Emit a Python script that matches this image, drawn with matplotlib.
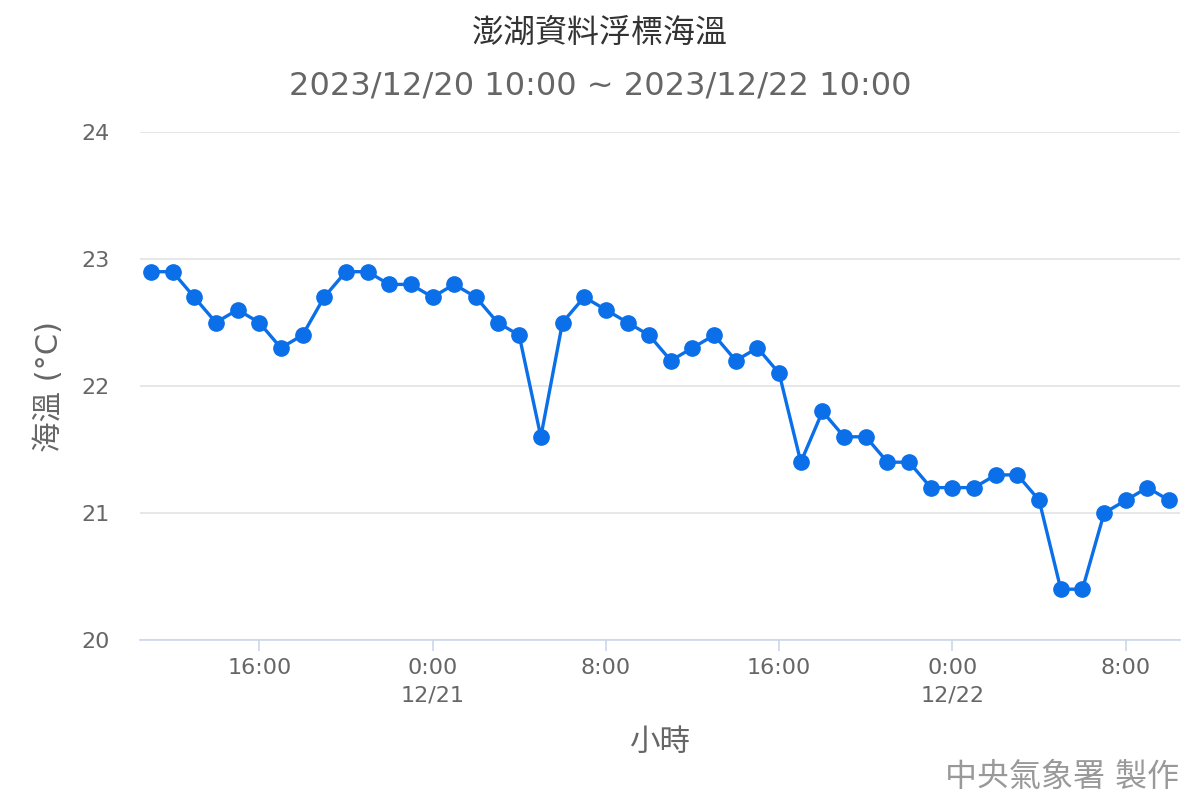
import matplotlib
matplotlib.use('Agg')
import matplotlib.pyplot as plt

plt.rcParams['font.family'] = ['DejaVu Sans', 'Noto Sans CJK TC']

# hours counted from 2023/12/20 0:00, hourly from 11:00 to 12/22 10:00
hours = list(range(11, 59))
sea_temp = [22.9, 22.9, 22.7, 22.5, 22.6, 22.5, 22.3, 22.4, 22.7, 22.9,
            22.9, 22.8, 22.8, 22.7, 22.8, 22.7, 22.5, 22.4, 21.6, 22.5,
            22.7, 22.6, 22.5, 22.4, 22.2, 22.3, 22.4, 22.2, 22.3, 22.1,
            21.4, 21.8, 21.6, 21.6, 21.4, 21.4, 21.2, 21.2, 21.2, 21.3,
            21.3, 21.1, 20.4, 20.4, 21.0, 21.1, 21.2, 21.1]

tick_hours = [16, 24, 32, 40, 48, 56]
tick_labels = ['16:00', '0:00\n12/21', '8:00', '16:00', '0:00\n12/22', '8:00']
y_ticks = [20, 21, 22, 23, 24]

text_color = '#666666'
line_color = '#0a6fe8'

fig = plt.figure(figsize=(12, 8), dpi=100)
ax = fig.add_axes([0.1167, 0.2, 0.8666, 0.635])

ax.plot(hours, sea_temp, color=line_color, lw=2.4, marker='o',
        markersize=11, zorder=3)

ax.set_xlim(10.5, 58.5)
ax.set_ylim(20, 24)
ax.set_yticks(y_ticks)
ax.set_xticks(tick_hours)
ax.set_xticklabels(tick_labels, linespacing=1.45)

ax.grid(axis='y', color='#e3e3e3', lw=1.2)
ax.set_axisbelow(True)
for s in ['top', 'right', 'left']:
    ax.spines[s].set_visible(False)
ax.spines['bottom'].set_color('#ccd6eb')
ax.spines['bottom'].set_linewidth(1.2)

ax.tick_params(axis='y', length=0, pad=22, labelsize=16, labelcolor=text_color)
ax.tick_params(axis='x', length=8, width=1.2, color='#ccd6eb', pad=5,
               labelsize=16, labelcolor=text_color)

ax.set_ylabel('海溫 (°C)', fontsize=22, color=text_color, labelpad=12)
ax.set_xlabel('小時', fontsize=22, color=text_color, labelpad=16)

fig.text(0.5, 0.958, '澎湖資料浮標海溫', ha='center', va='center',
         fontsize=23, color='#333333')
fig.text(0.5, 0.893, '2023/12/20 10:00 ~ 2023/12/22 10:00', ha='center',
         va='center', fontsize=23, color=text_color)
fig.text(0.983, 0.028, '中央氣象署 製作', ha='right', va='center',
         fontsize=23, color='#999999')

fig.savefig('out.png', dpi=100)
